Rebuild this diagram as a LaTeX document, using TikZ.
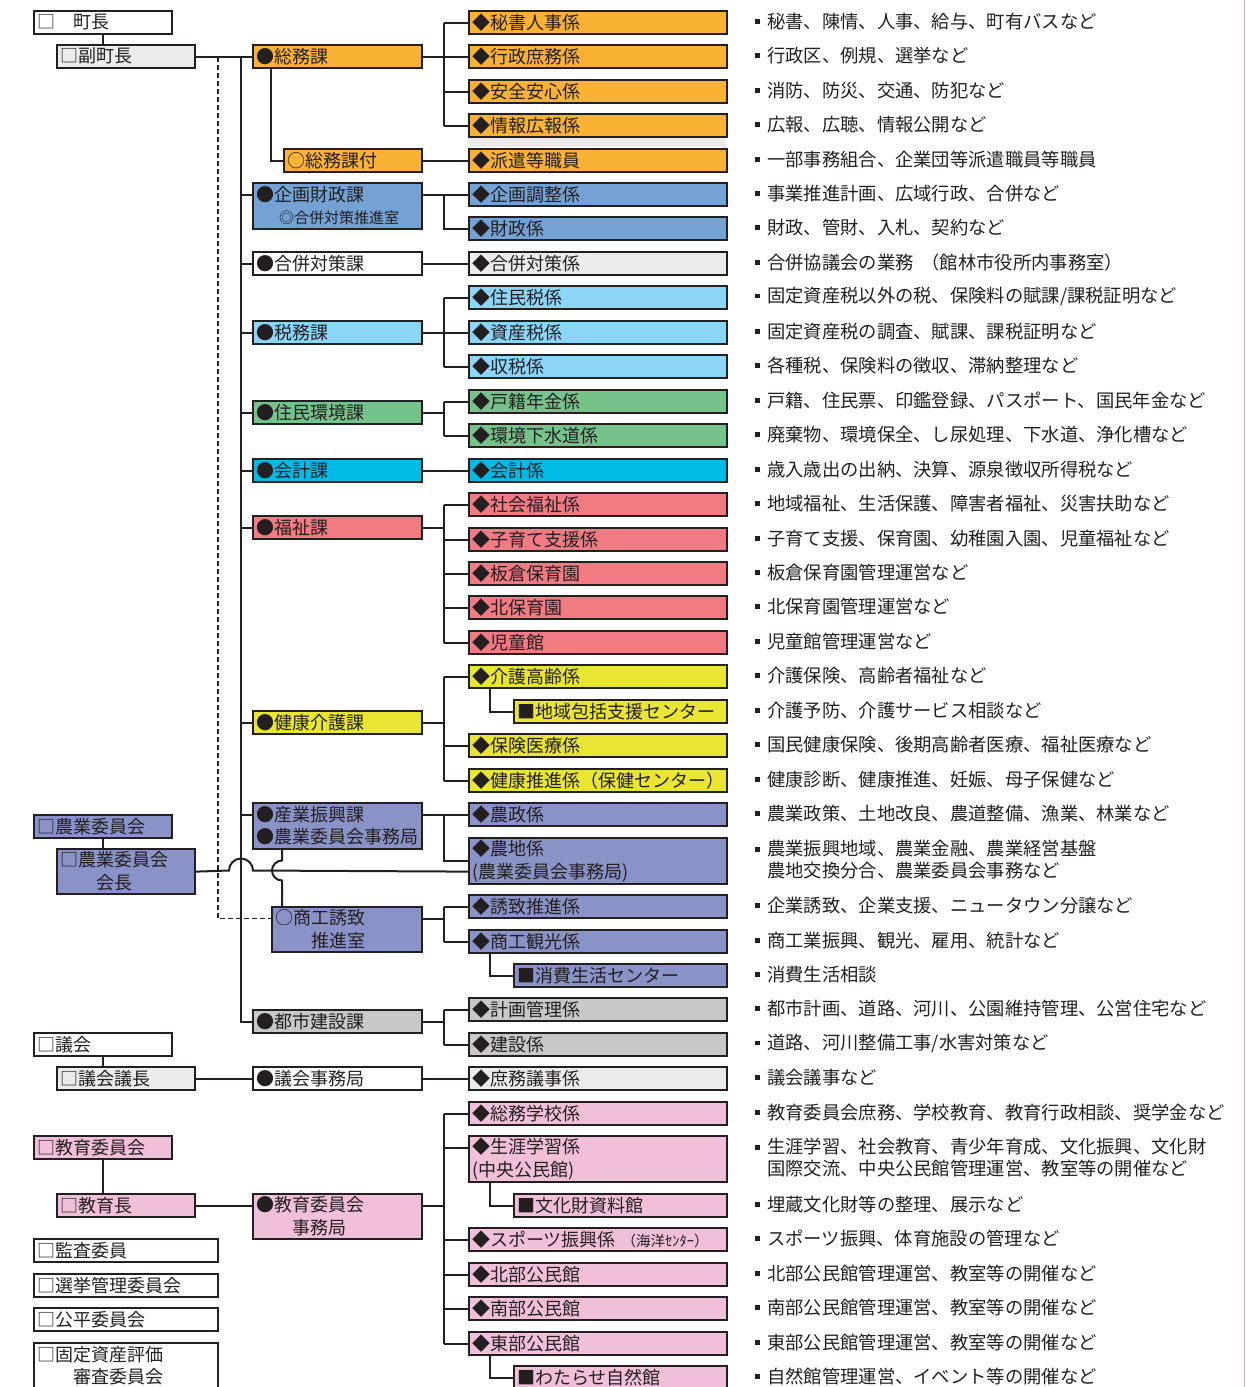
\documentclass[tikz,border=0pt]{standalone}
\usepackage{fontspec}
\setmainfont{Noto Sans CJK JP}
\usetikzlibrary{calc}
\definecolor{ink}{HTML}{231F20}
\definecolor{cOr}{HTML}{F9B233}
\definecolor{cBl}{HTML}{74A2D4}
\definecolor{cGa}{HTML}{ECEBEC}
\definecolor{cLb}{HTML}{8BD6F6}
\definecolor{cGr}{HTML}{75C38A}
\definecolor{cCy}{HTML}{00BBE6}
\definecolor{cSa}{HTML}{F27B83}
\definecolor{cYe}{HTML}{E8E533}
\definecolor{cPe}{HTML}{8A93C8}
\definecolor{cGb}{HTML}{C9C8C9}
\definecolor{cPk}{HTML}{F0C0DA}
\definecolor{cEdge}{HTML}{F4A6B4}
\newcommand\bxf{\fontsize{18}{22.5}\selectfont}
\newcommand\dsf{\fontsize{18.3}{21.5}\selectfont}
\newcommand\cs{\rule[-0.12em]{0pt}{0.88em}}
\newcommand\bul{\makebox[12pt][l]{\raisebox{4.3pt}{\rule{4.6pt}{4.6pt}}}}
\tikzset{
  box/.style={draw=ink, line width=2.2pt, inner xsep=3pt, inner ysep=0pt, anchor=north west,
    align=left, font=\bxf, text=ink, minimum height=23pt, execute at begin node=\cs},
  tall/.style={minimum height=45pt},
  wL/.style={text width=132pt},
  wC/.style={text width=178pt},
  wM/.style={text width=163pt},
  wS/.style={text width=144pt},
  wT/.style={text width=132pt},
  wR/.style={text width=252pt},
  wRS/.style={text width=207pt},
  conn/.style={draw=ink, line width=2pt},
  dashline/.style={draw=ink, line width=1.3pt, dash pattern=on 5pt off 3pt},
  desc/.style={anchor=west, inner sep=0pt, align=left, font=\dsf, text=ink, execute at begin node=\cs}
}
\begin{document}
\begin{tikzpicture}[x=1pt,y=-1pt]
\useasboundingbox (0,0) rectangle (1246,1387);
\draw[cEdge, line width=1.5pt] (1244.5,0) -- (1244.5,1387);
% strip
\fill[cGa] (468,137.5) rectangle (726,146.5);
% ---------- left column ----------
\node[box,wL] (chocho) at (33,10) {□　町長};
\node[box,wL,fill=cGa] (fuku) at (56,44) {□副町長};
\node[box,wL,fill=cPe] (nogyoi) at (33,814) {□農業委員会};
\node[box,wL,fill=cPe,tall] (kaicho) at (56,848) {□農業委員会\\\cs\hspace*{2em}会長};
\node[box,wL] (gikai) at (33,1032) {□議会};
\node[box,wL,fill=cGa] (gicho) at (56,1066) {□議会議長};
\node[box,wL,fill=cPk] (kyoi) at (33,1135) {□教育委員会};
\node[box,wL,fill=cPk] (kyocho) at (56,1193) {□教育長};
\node[box,wC] (kansa) at (33,1238) {□監査委員};
\node[box,wC] (senkyo) at (33,1273) {□選挙管理委員会};
\node[box,wC] (kohei) at (33,1307) {□公平委員会};
\node[box,wC,minimum height=46pt] (kotei) at (33,1342) {□固定資産評価\\\cs\hspace*{2em}審査委員会};
% ---------- middle column ----------
\node[box,wM,fill=cOr] (somu) at (252,44) {●総務課};
\node[box,wT,fill=cOr] (tsuki) at (283,148) {○総務課付};
\node[box,wM,fill=cBl,minimum height=46pt] (kikaku) at (252,182) {●企画財政課\\\cs\hspace*{23pt}{\fontsize{15}{22}\selectfont ◎合併対策推進室}};
\node[box,wM] (gappei) at (252,251) {●合併対策課};
\node[box,wM,fill=cLb] (zeimu) at (252,320) {●税務課};
\node[box,wM,fill=cGr] (jumin) at (252,400) {●住民環境課};
\node[box,wM,fill=cCy] (kaikei) at (252,458) {●会計課};
\node[box,wM,fill=cSa] (fukushi) at (252,515) {●福祉課};
\node[box,wM,fill=cYe] (kenko) at (252,710) {●健康介護課};
\node[box,wM,fill=cPe,minimum height=46pt] (sangyo) at (252,802) {●産業振興課\\\cs●農業委員会事務局};
\node[box,wS,fill=cPe,tall] (shoko) at (271,906) {○商工誘致\\\cs\hspace*{2em}推進室};
\node[box,wM,fill=cGb] (toshi) at (252,1009) {●都市建設課};
\node[box,wM] (gijimu) at (252,1066) {●議会事務局};
\node[box,wM,fill=cPk,tall] (kyojimu) at (252,1193) {●教育委員会\\\cs\hspace*{2em}事務局};
% ---------- right column ----------
\node[box,wR,fill=cOr] (k0) at (468,10) {◆秘書人事係};
\node[box,wR,fill=cOr] (k1) at (468,44) {◆行政庶務係};
\node[box,wR,fill=cOr] (k2) at (468,79) {◆安全安心係};
\node[box,wR,fill=cOr] (k3) at (468,113) {◆情報広報係};
\node[box,wR,fill=cOr] (k4) at (468,148) {◆派遣等職員};
\node[box,wR,fill=cBl] (k5) at (468,182) {◆企画調整係};
\node[box,wR,fill=cBl] (k6) at (468,216) {◆財政係};
\node[box,wR,fill=cGa] (k7) at (468,251) {◆合併対策係};
\node[box,wR,fill=cLb] (k8) at (468,285) {◆住民税係};
\node[box,wR,fill=cLb] (k9) at (468,320) {◆資産税係};
\node[box,wR,fill=cLb] (k10) at (468,354) {◆収税係};
\node[box,wR,fill=cGr] (k11) at (468,389) {◆戸籍年金係};
\node[box,wR,fill=cGr] (k12) at (468,423) {◆環境下水道係};
\node[box,wR,fill=cCy] (k13) at (468,458) {◆会計係};
\node[box,wR,fill=cSa] (k14) at (468,492) {◆社会福祉係};
\node[box,wR,fill=cSa] (k15) at (468,527) {◆子育て支援係};
\node[box,wR,fill=cSa] (k16) at (468,561) {◆板倉保育園};
\node[box,wR,fill=cSa] (k17) at (468,595) {◆北保育園};
\node[box,wR,fill=cSa] (k18) at (468,630) {◆児童館};
\node[box,wR,fill=cYe] (k19) at (468,664) {◆介護高齢係};
\node[box,wRS,fill=cYe] (k20) at (513,699) {■地域包括支援センター};
\node[box,wR,fill=cYe] (k21) at (468,733) {◆保険医療係};
\node[box,wR,fill=cYe] (k22) at (468,768) {◆健康推進係（保健センター）};
\node[box,wR,fill=cPe] (k23) at (468,802) {◆農政係};
\node[box,wR,fill=cPe,minimum height=46pt] (k24) at (468,837) {◆農地係\\\cs(農業委員会事務局)};
\node[box,wR,fill=cPe] (k25) at (468,894) {◆誘致推進係};
\node[box,wR,fill=cPe] (k26) at (468,929) {◆商工観光係};
\node[box,wRS,fill=cPe] (k27) at (513,963) {■消費生活センター};
\node[box,wR,fill=cGb] (k28) at (468,997) {◆計画管理係};
\node[box,wR,fill=cGb] (k29) at (468,1032) {◆建設係};
\node[box,wR,fill=cGa] (k30) at (468,1066) {◆庶務議事係};
\node[box,wR,fill=cPk] (k31) at (468,1101) {◆総務学校係};
\node[box,wR,fill=cPk,minimum height=46pt] (k32) at (468,1135) {◆生涯学習係\\\cs(中央公民館)};
\node[box,wRS,fill=cPk] (k33) at (513,1193) {■文化財資料館};
\node[box,wR,fill=cPk] (k34) at (468,1227) {◆スポーツ振興係\hspace{6pt}{\fontsize{14.5}{22}\selectfont （海洋ｾﾝﾀｰ）}};
\node[box,wR,fill=cPk] (k35) at (468,1262) {◆北部公民館};
\node[box,wR,fill=cPk] (k36) at (468,1296) {◆南部公民館};
\node[box,wR,fill=cPk] (k37) at (468,1331) {◆東部公民館};
\node[box,wRS,fill=cPk] (k38) at (513,1365) {■わたらせ自然館};
% ---------- descriptions ----------
\node[desc] (d0) at (755,21.5) {\bul 秘書、陳情、人事、給与、町有バスなど};
\node[desc] (d1) at (755,55.5) {\bul 行政区、例規、選挙など};
\node[desc] (d2) at (755,90.5) {\bul 消防、防災、交通、防犯など};
\node[desc] (d3) at (755,124.5) {\bul 広報、広聴、情報公開など};
\node[desc] (d4) at (755,159.5) {\bul 一部事務組合、企業団等派遣職員等職員};
\node[desc] (d5) at (755,193.5) {\bul 事業推進計画、広域行政、合併など};
\node[desc] (d6) at (755,227.5) {\bul 財政、管財、入札、契約など};
\node[desc] (d7) at (755,262.5) {\bul 合併協議会の業務\hspace{8pt}（館林市役所内事務室）};
\node[desc] (d8) at (755,296.5) {\bul 固定資産税以外の税、保険料の賦課/課税証明など};
\node[desc] (d9) at (755,331.5) {\bul 固定資産税の調査、賦課、課税証明など};
\node[desc] (d10) at (755,365.5) {\bul 各種税、保険料の徴収、滞納整理など};
\node[desc] (d11) at (755,400.5) {\bul 戸籍、住民票、印鑑登録、パスポート、国民年金など};
\node[desc] (d12) at (755,434.5) {\bul 廃棄物、環境保全、し尿処理、下水道、浄化槽など};
\node[desc] (d13) at (755,469.5) {\bul 歳入歳出の出納、決算、源泉徴収所得税など};
\node[desc] (d14) at (755,503.5) {\bul 地域福祉、生活保護、障害者福祉、災害扶助など};
\node[desc] (d15) at (755,538.5) {\bul 子育て支援、保育園、幼稚園入園、児童福祉など};
\node[desc] (d16) at (755,572.5) {\bul 板倉保育園管理運営など};
\node[desc] (d17) at (755,606.5) {\bul 北保育園管理運営など};
\node[desc] (d18) at (755,641.5) {\bul 児童館管理運営など};
\node[desc] (d19) at (755,675.5) {\bul 介護保険、高齢者福祉など};
\node[desc] (d20) at (755,710.5) {\bul 介護予防、介護サービス相談など};
\node[desc] (d21) at (755,744.5) {\bul 国民健康保険、後期高齢者医療、福祉医療など};
\node[desc] (d22) at (755,779.5) {\bul 健康診断、健康推進、妊娠、母子保健など};
\node[desc] (d23) at (755,813.5) {\bul 農業政策、土地改良、農道整備、漁業、林業など};
\node[desc] (d24) at (755,860) {\bul 農業振興地域、農業金融、農業経営基盤\\\cs\hspace*{12pt}農地交換分合、農業委員会事務など};
\node[desc] (d25) at (755,905.5) {\bul 企業誘致、企業支援、ニュータウン分譲など};
\node[desc] (d26) at (755,940.5) {\bul 商工業振興、観光、雇用、統計など};
\node[desc] (d27) at (755,974.5) {\bul 消費生活相談};
\node[desc] (d28) at (755,1008.5) {\bul 都市計画、道路、河川、公園維持管理、公営住宅など};
\node[desc] (d29) at (755,1043.5) {\bul 道路、河川整備工事/水害対策など};
\node[desc] (d30) at (755,1077.5) {\bul 議会議事など};
\node[desc] (d31) at (755,1112.5) {\bul 教育委員会庶務、学校教育、教育行政相談、奨学金など};
\node[desc] (d32) at (755,1158) {\bul 生涯学習、社会教育、青少年育成、文化振興、文化財\\\cs\hspace*{12pt}国際交流、中央公民館管理運営、教室等の開催など};
\node[desc] (d33) at (755,1204.5) {\bul 埋蔵文化財等の整理、展示など};
\node[desc] (d34) at (755,1238.5) {\bul スポーツ振興、体育施設の管理など};
\node[desc] (d35) at (755,1273.5) {\bul 北部公民館管理運営、教室等の開催など};
\node[desc] (d36) at (755,1307.5) {\bul 南部公民館管理運営、教室等の開催など};
\node[desc] (d37) at (755,1342.5) {\bul 東部公民館管理運営、教室等の開催など};
\node[desc] (d38) at (755,1376.5) {\bul 自然館管理運営、イベント等の開催など};
% ---------- helper coordinates ----------
\coordinate (T) at (241,0);
\coordinate (B) at (444,0);
\coordinate (S) at (490,0);
\coordinate (D) at (218,0);
\coordinate (V) at (282,0);
\coordinate (shokoE) at ([yshift=11pt]shoko.east);
\coordinate (shokoW) at ([yshift=11pt]shoko.west);
\coordinate (kyojimuE) at ([yshift=11pt]kyojimu.east);
\coordinate (k32W) at ([yshift=11pt]k32.west);
\coordinate (tsukiV) at ([xshift=19pt]somu.south west);
% ---------- left connectors ----------
\draw[conn] (chocho.south) -- (chocho.south |- fuku.north);
\draw[conn] (nogyoi.south) -- (nogyoi.south |- kaicho.north);
\draw[conn] (gikai.south) -- (gikai.south |- gicho.north);
\draw[conn] (kyoi.south) -- (kyoi.south |- kyocho.north);
\draw[conn] (fuku.east) -- (somu.west);
\draw[conn] (gicho.east) -- (gijimu.west);
\draw[conn] (kyocho.east) -- (kyocho.east -| kyojimu.west);
% trunk
\draw[conn] (T |- fuku.east) |- (toshi.west);
\draw[conn] (T |- k5.west) -- (kikaku.west |- k5.west);
\foreach \n in {gappei,zeimu,jumin,kaikei,fukushi,kenko} \draw[conn] (T |- \n.west) -- (\n.west);
\draw[conn] (T |- k23.west) -- (sangyo.west |- k23.west);
% somu -> tsuki
\draw[conn] (tsukiV) |- (tsuki.west);
% dashed
\draw[dashline] (D |- fuku.east) |- (shokoW);
% sangyo -> shoko with hop
\draw[conn] (V |- sangyo.south) -- (282,860.5) .. controls (276.5,860.5) and (272,865) .. (272,870.5) .. controls (272,876) and (276.5,880.5) .. (282,880.5) -- (V |- shoko.north);
% kaicho -> k24 with hop over trunk
\draw[conn] (kaicho.east) -- (229,870.5) .. controls (229,863.9) and (234.4,858.5) .. (241,858.5) .. controls (247.6,858.5) and (253,863.9) .. (253,870.5) -- (k24.west |- kaicho.east);
% ---------- bus connectors ----------
\draw[conn] (somu.east) -- (B |- somu.east);
\draw[conn] (B |- k0.west) -- (B |- k3.west);
\foreach \n in {k0,k1,k2,k3} \draw[conn] (B |- \n.west) -- (\n.west);
\draw[conn] (tsuki.east) -- (k4.west);
\draw[conn] (kikaku.east |- k5.west) -- (k5.west);
\draw[conn] (B |- k5.west) |- (k6.west);
\draw[conn] (gappei.east) -- (k7.west);
\draw[conn] (zeimu.east) -- (B |- zeimu.east);
\draw[conn] (B |- k8.west) -- (B |- k10.west);
\foreach \n in {k8,k9,k10} \draw[conn] (B |- \n.west) -- (\n.west);
\draw[conn] (jumin.east) -- (B |- jumin.east);
\draw[conn] (B |- k11.west) -- (B |- k12.west);
\foreach \n in {k11,k12} \draw[conn] (B |- \n.west) -- (\n.west);
\draw[conn] (kaikei.east) -- (k13.west);
\draw[conn] (fukushi.east) -- (B |- fukushi.east);
\draw[conn] (B |- k14.west) -- (B |- k18.west);
\foreach \n in {k14,k15,k16,k17,k18} \draw[conn] (B |- \n.west) -- (\n.west);
\draw[conn] (kenko.east) -- (B |- kenko.east);
\draw[conn] (B |- k19.west) -- (B |- k22.west);
\foreach \n in {k19,k21,k22} \draw[conn] (B |- \n.west) -- (\n.west);
\draw[conn] (sangyo.east |- k23.west) -- (k23.west);
\draw[conn] (B |- k23.west) |- (k24.west);
\draw[conn] (shokoE) -- (B |- shokoE);
\draw[conn] (B |- k25.west) -- (B |- k26.west);
\foreach \n in {k25,k26} \draw[conn] (B |- \n.west) -- (\n.west);
\draw[conn] (toshi.east) -- (B |- toshi.east);
\draw[conn] (B |- k28.west) -- (B |- k29.west);
\foreach \n in {k28,k29} \draw[conn] (B |- \n.west) -- (\n.west);
\draw[conn] (gijimu.east) -- (k30.west);
\draw[conn] (kyojimuE) -- (B |- kyojimuE);
\draw[conn] (B |- k31.west) -- (B |- k37.west);
\foreach \n in {k31,k34,k35,k36,k37} \draw[conn] (B |- \n.west) -- (\n.west);
\draw[conn] (B |- k32W) -- (k32W);
% sub branches
\draw[conn] (S |- k19.south) |- (k20.west);
\draw[conn] (S |- k26.south) |- (k27.west);
\draw[conn] (S |- k32.south) |- (k33.west);
\draw[conn] (S |- k37.south) |- (k38.west);
\end{tikzpicture}
\end{document}
